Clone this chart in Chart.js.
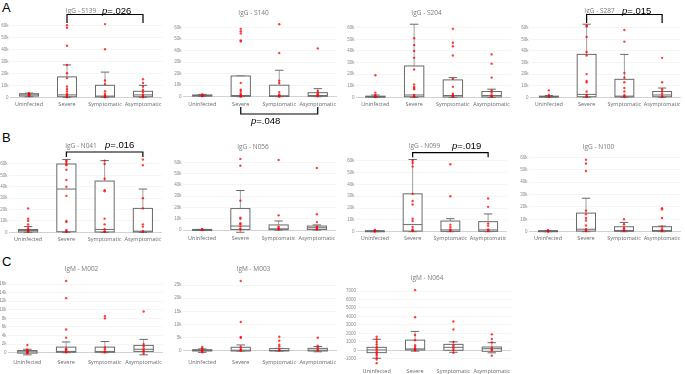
<!DOCTYPE html>
<html>
<head>
<meta charset="utf-8">
<script src="https://cdn.jsdelivr.net/npm/chart.js@4"></script>
<style>
  body { margin: 0; background: #fff; width: 685px; height: 374px; position: relative; overflow: hidden; }
  .panel { position: absolute; }
  .letter { position: absolute; font: 13px "Liberation Sans", Arial, sans-serif; line-height: 13px; color: #000; }
</style>
</head>
<body>
<div class="letter" style="left:2px;top:1px">A</div>
<div class="letter" style="left:2px;top:131px">B</div>
<div class="letter" style="left:2px;top:255px">C</div>

<script>
// Grupos (eje x)
const groups = ["Uninfected", "Severe", "Symptomatic", "Asymptomatic"];

// Cajas: [bigote inferior, Q1, mediana, Q3, bigote superior] por grupo
const s139Box = [[500, 1000, 2000, 3000, 3500], [0, 500, 2000, 17000, 27000], [0, 300, 1000, 10000, 21000], [0, 500, 2000, 5000, 10000]];
const s139Pts = [
  [3500, 3000, 2500, 2200, 2000, 1800, 1500, 1200, 1000],
  [60000, 58000, 43000, 27000, 20000, 16000, 9000, 7000, 5000, 3000, 2000, 1000, 500, 300],
  [61000, 40000, 14000, 11000, 5000, 3000, 1500, 1000, 500, 300, 200],
  [15000, 12000, 9000, 6000, 4000, 2000, 1000, 500, 300]
];

const s140Box = [[300, 500, 1000, 1500, 2000], [0, 300, 1000, 18000, 18000], [0, 200, 800, 10000, 23000], [0, 300, 1000, 3500, 7000]];
const s140Pts = [
  [2000, 1500, 1200, 1000, 800, 500],
  [59000, 57000, 55000, 49000, 48000, 12000, 6000, 5000, 3000, 1500, 1000, 500, 200],
  [63000, 38000, 14000, 12000, 4000, 2000, 1000, 500, 200],
  [42000, 5000, 3000, 2000, 1000, 500]
];

const s204Box = [[0, 200, 500, 1000, 2000], [0, 500, 2000, 27000, 63000], [0, 300, 1500, 15000, 17000], [0, 300, 1500, 5000, 7000]];
const s204Pts = [
  [19000, 4000, 2000, 1000, 500, 200],
  [51000, 45000, 40000, 34000, 24000, 11000, 9000, 8000, 7000, 2000, 1000, 500],
  [59000, 47000, 44000, 36000, 16000, 9000, 3000, 2000, 1000, 500],
  [37000, 29000, 17000, 6000, 4000, 2000, 1000, 500]
];

const s287Box = [[0, 200, 500, 1000, 1500], [0, 500, 2500, 37000, 63000], [0, 300, 1000, 15500, 37000], [0, 500, 2000, 5000, 8000]];
const s287Pts = [
  [6000, 2000, 1000, 500],
  [62000, 61000, 52000, 39000, 36000, 20000, 14000, 13000, 5000, 2000, 1000, 500],
  [58000, 48000, 21000, 17000, 13000, 8000, 5000, 2000, 1000, 500],
  [34000, 13000, 7000, 5000, 3000, 1000, 500]
];

const n041Box = [[0, 300, 1500, 2500, 5000], [0, 500, 38000, 60000, 64000], [0, 300, 2500, 45000, 63000], [0, 300, 1000, 21000, 38000]];
const n041Pts = [
  [21000, 12000, 10000, 7000, 5000, 3000, 2000, 1000, 500],
  [63000, 62000, 60000, 59000, 55000, 46000, 40000, 32000, 10000, 9000, 2000, 1000, 500],
  [63000, 60000, 47000, 37000, 36000, 12000, 7000, 3000, 1000, 500],
  [64000, 59000, 30000, 21000, 7000, 5000, 1000, 500]
];

const n056Box = [[0, 0, 200, 500, 500], [-2000, 500, 3500, 19000, 35000], [0, 300, 1000, 4500, 8000], [0, 500, 2000, 3500, 4500]];
const n056Pts = [
  [600, 400, 200, 0],
  [63000, 57000, 26000, 11000, 10000, 6000, 5000, 3000, 1000, 500],
  [62000, 13000, 3000, 2000, 1000, 500],
  [55000, 14000, 7000, 3000, 2000, 1000, 500]
];

const n099Box = [[0, 200, 500, 800, 1000], [0, 500, 6000, 32000, 61000], [0, 300, 1500, 9000, 11000], [0, 300, 1500, 8500, 15000]];
const n099Pts = [
  [1500, 1000, 500, 200],
  [60000, 58000, 55000, 32000, 26000, 23000, 11000, 9000, 4000, 2000, 1000, 500],
  [57000, 30000, 6000, 4000, 2000, 1000, 500],
  [28000, 21000, 7000, 5000, 2000, 1000, 500]
];

const n100Box = [[0, 200, 500, 800, 1000], [0, 500, 2000, 15000, 27000], [0, 300, 1000, 4000, 7500], [0, 300, 1000, 4000, 4500]];
const n100Pts = [
  [1200, 800, 500, 200],
  [58000, 55000, 49000, 17000, 14000, 11000, 9000, 5000, 2000, 1000, 500],
  [10000, 6000, 3000, 2000, 1000, 500],
  [19000, 18000, 11000, 4000, 2000, 1000, 500]
];

const m002Box = [[-500, -100, 200, 500, 800], [0, 100, 300, 1300, 2500], [0, 100, 300, 1300, 2600], [-500, 300, 800, 1700, 3100]];
const m002Pts = [
  [1800, 700, 500, 300, 200, 0, -100],
  [16700, 12700, 5400, 3500, 1000, 800, 500, 200, 100],
  [8500, 8000, 1200, 800, 300, 100],
  [9600, 2000, 1500, 1000, 600, 300, -200]
];

const m003Box = [[-500, 0, 200, 500, 800], [0, 0, 300, 1400, 2300], [0, 0, 200, 900, 1000], [-300, 0, 300, 1000, 1700]];
const m003Pts = [
  [1500, 1000, 500, 0, -500],
  [26500, 11000, 5300, 5000, 1500, 800, 400, 100],
  [5400, 3900, 2400, 1700, 600, 200],
  [5000, 2000, 1300, 600, 200]
];

const n064Box = [[-940, -275, 40, 350, 1300], [-100, 40, 160, 1200, 2230], [-235, 0, 350, 700, 1000], [-300, -120, 190, 390, 900]];
const n064Pts = [
  [1600, 1300, 1000, 700, 400, 200, 0, -200, -400, -600, -900, -1100, -1530],
  [7100, 3900, 1800, 1200, 600, 400, 200, 100, 0],
  [3400, 2470, 1000, 600, 400, 200, 0, -300],
  [1880, 1330, 940, 300, 100, 0, -630]
];

// Comparaciones con p-valor
const pTexts = { s139: ".026", s140: ".048", s287: ".015", n041: ".016", n099: ".019" };

// Disposición de cada panel (posiciones en px de la página)
const panels = [
  { title: "IgG - S139", box: s139Box, pts: s139Pts, left: 0, width: 170, top: 0, height: 112, xL: 10, xR: 162,
    tickVal: 60000, tickPx: 25.3, zeroPx: 97.3, yMax: 65000, yMin: -3000, step: 10000, k: true, titleY: 10.8, labelY: 104,
    bracket: { p: pTexts.s139, line: 14.5, leg: 23, tx: 102, ty: 11 } },
  { title: "IgG - S140", box: s140Box, pts: s140Pts, left: 170, width: 172, top: 0, height: 130, xL: 183, xR: 337,
    tickVal: 60000, tickPx: 27.7, zeroPx: 96.7, yMax: 65000, yMin: -3000, step: 10000, k: true, titleY: 13, labelY: 104,
    bracket: { p: pTexts.s140, line: 114, leg: 107, tx: 251, ty: 121.5 } },
  { title: "IgG - S204", box: s204Box, pts: s204Pts, left: 342, width: 173, top: 0, height: 112, xL: 356, xR: 511,
    tickVal: 60000, tickPx: 27.7, zeroPx: 97.3, yMax: 65000, yMin: -3000, step: 10000, k: true, titleY: 13, labelY: 104 },
  { title: "IgG - S287", box: s287Box, pts: s287Pts, left: 515, width: 170, top: 0, height: 112, xL: 530, xR: 684,
    tickVal: 60000, tickPx: 27.7, zeroPx: 97.3, yMax: 65000, yMin: -3000, step: 10000, k: true, titleY: 10.8, labelY: 104,
    bracket: { p: pTexts.s287, line: 14.5, leg: 23, tx: 622, ty: 11 } },

  { title: "IgG - N041", box: n041Box, pts: n041Pts, left: 0, width: 170, top: 128, height: 117, xL: 9, xR: 162,
    tickVal: 60000, tickPx: 164, zeroPx: 232.3, yMax: 65000, yMin: -3000, step: 10000, k: true, titleY: 146.5, labelY: 238,
    bracket: { p: pTexts.n041, line: 152, leg: 157, tx: 105, ty: 145 } },
  { title: "IgG - N056", box: n056Box, pts: n056Pts, left: 170, width: 172, top: 128, height: 117, xL: 183, xR: 336,
    tickVal: 60000, tickPx: 162.3, zeroPx: 230, yMax: 65000, yMin: -3000, step: 10000, k: true, titleY: 147, labelY: 238 },
  { title: "IgG - N099", box: n099Box, pts: n099Pts, left: 342, width: 173, top: 128, height: 117, xL: 356, xR: 507,
    tickVal: 60000, tickPx: 160.7, zeroPx: 231.7, yMax: 64500, yMin: -3000, step: 10000, k: true, titleY: 146.5, labelY: 238,
    bracket: { p: pTexts.n099, line: 152.7, leg: 157.3, tx: 452, ty: 146 } },
  { title: "IgG - N100", box: n100Box, pts: n100Pts, left: 515, width: 170, top: 128, height: 117, xL: 529, xR: 682,
    tickVal: 60000, tickPx: 157.3, zeroPx: 231.7, yMax: 64000, yMin: -3000, step: 10000, k: true, titleY: 147, labelY: 238 },

  { title: "IgM - M002", box: m002Box, pts: m002Pts, left: 0, width: 170, top: 245, height: 129, xL: 8, xR: 163,
    tickVal: 16000, tickPx: 284, zeroPx: 352.7, yMax: 17500, yMin: -1000, step: 2000, k: true, titleY: 269, labelY: 362 },
  { title: "IgM - M003", box: m003Box, pts: m003Pts, left: 170, width: 172, top: 245, height: 129, xL: 183, xR: 337,
    tickVal: 25000, tickPx: 285, zeroPx: 351, yMax: 27500, yMin: -1500, step: 5000, k: true, titleY: 269, labelY: 362 },
  { title: "IgM - N064", box: n064Box, pts: n064Pts, left: 342, width: 173, top: 245, height: 129, xL: 357.5, xR: 512,
    tickVal: 7000, tickPx: 291, zeroPx: 350.3, yMax: 7500, yMin: -1700, step: 1000, k: false, titleY: 278, labelY: 371 }
];

const FONT = '"Open Sans", "Liberation Sans", Arial, sans-serif';
const TICK_FONT = '"Liberation Sans", Arial, sans-serif';

// Cajas y bigotes dibujados con las escalas del gráfico
function boxPlugin(stats) {
  return {
    id: "boxes",
    beforeDatasetsDraw(chart) {
      const { ctx, scales: { x, y } } = chart;
      const half = x.getPixelForValue(0.25) - x.getPixelForValue(0);
      const cap = x.getPixelForValue(0.11) - x.getPixelForValue(0);
      ctx.save();
      stats.forEach((s, i) => {
        const cx = x.getPixelForValue(i);
        const [lo, q1, med, q3, hi] = s.map(v => y.getPixelForValue(v));
        ctx.lineWidth = 1;
        ctx.strokeStyle = "#a0a0a0";
        ctx.beginPath();
        ctx.moveTo(cx, q3); ctx.lineTo(cx, hi);
        ctx.moveTo(cx, q1); ctx.lineTo(cx, lo);
        ctx.stroke();
        ctx.strokeStyle = "#6a6a6a";
        ctx.beginPath();
        ctx.moveTo(cx - cap, hi); ctx.lineTo(cx + cap, hi);
        ctx.moveTo(cx - cap, lo); ctx.lineTo(cx + cap, lo);
        ctx.stroke();
        ctx.fillStyle = "rgba(255,255,255,0.85)";
        ctx.fillRect(cx - half, q3, 2 * half, q1 - q3);
        ctx.strokeRect(cx - half, q3, 2 * half, Math.max(q1 - q3, 1));
        ctx.beginPath();
        ctx.moveTo(cx - half, med); ctx.lineTo(cx + half, med);
        ctx.stroke();
      });
      ctx.restore();
    }
  };
}

// Corchete con p-valor entre Severe y Asymptomatic
function bracketPlugin(p) {
  return {
    id: "bracket",
    afterDraw(chart) {
      const b = p.bracket;
      if (!b) return;
      const { ctx, scales: { x } } = chart;
      const x1 = x.getPixelForValue(1), x2 = x.getPixelForValue(3);
      const yl = b.line - p.top, yg = b.leg - p.top;
      ctx.save();
      ctx.strokeStyle = "#000";
      ctx.lineWidth = 1.2;
      ctx.beginPath();
      ctx.moveTo(x1, yg); ctx.lineTo(x1, yl); ctx.lineTo(x2, yl); ctx.lineTo(x2, yg);
      ctx.stroke();
      ctx.fillStyle = "#000";
      ctx.textBaseline = "middle";
      const tx = b.tx - p.left, ty = b.ty - p.top;
      ctx.font = 'italic 9.5px "Liberation Sans", Arial, sans-serif';
      ctx.fillText("p", tx, ty);
      const w = ctx.measureText("p").width;
      ctx.font = '9.5px "Liberation Sans", Arial, sans-serif';
      ctx.fillText("=" + b.p, tx + w, ty);
      ctx.restore();
    }
  };
}

panels.forEach(p => {
  const div = document.createElement("div");
  div.className = "panel";
  div.style.left = p.left + "px";
  div.style.top = p.top + "px";
  div.style.width = p.width + "px";
  div.style.height = p.height + "px";
  const canvas = document.createElement("canvas");
  div.appendChild(canvas);
  document.body.appendChild(div);

  const ppv = (p.zeroPx - p.tickPx) / p.tickVal;
  const chartTop = p.zeroPx - p.yMax * ppv;
  const chartBottom = p.zeroPx - p.yMin * ppv;
  const titleSize = 6.5, lh = titleSize * 1.2;
  const padTop = p.titleY - lh / 2 - p.top;
  const padBot = Math.max(0, chartTop - (p.titleY + lh / 2));
  const xh = p.top + p.height - chartBottom;

  const yTicks = [];
  for (let v = Math.ceil(p.yMin / p.step) * p.step; v <= p.yMax; v += p.step) yTicks.push(v);

  const points = p.pts.flatMap((arr, i) => arr.map(v => ({ x: i, y: v })));

  new Chart(canvas, {
    type: "scatter",
    data: {
      datasets: [{
        data: points,
        pointRadius: 1.2,
        pointBackgroundColor: "rgba(255,0,0,0.75)",
        pointBorderWidth: 0
      }]
    },
    plugins: [boxPlugin(p.box), bracketPlugin(p)],
    options: {
      responsive: true,
      maintainAspectRatio: false,
      animation: false,
      layout: { padding: { left: 0, top: 0, bottom: 0, right: p.left + p.width - p.xR } },
      plugins: {
        legend: { display: false },
        tooltip: { enabled: false },
        title: {
          display: true,
          text: p.title,
          color: "#7a7a7a",
          font: { family: FONT, size: titleSize, weight: "normal" },
          padding: { top: padTop, bottom: padBot }
        }
      },
      scales: {
        x: {
          type: "linear",
          min: -0.5,
          max: 3.5,
          afterBuildTicks: s => { s.ticks = groups.map((g, i) => ({ value: i })); },
          afterFit: s => { s.height = xh; },
          grid: { display: false, drawTicks: false },
          border: { display: false },
          ticks: {
            callback: v => groups[v],
            color: "#6a6a6a",
            font: { family: FONT, size: 5.5 },
            padding: Math.max(0, p.labelY - 3 - chartBottom),
            maxRotation: 0,
            autoSkip: false
          }
        },
        y: {
          min: p.yMin,
          max: p.yMax,
          afterBuildTicks: s => { s.ticks = yTicks.map(v => ({ value: v })); },
          afterFit: s => { s.width = p.xL - p.left; },
          grid: {
            drawTicks: false,
            color: c => (c.tick && c.tick.value === 0 ? "#d2d2d2" : "#f0f0f0"),
            lineWidth: c => (c.tick && c.tick.value === 0 ? 1 : 0.7)
          },
          border: { display: false },
          ticks: {
            callback: v => (p.k && v !== 0 ? v / 1000 + "k" : String(v)),
            color: "#8a8a8a",
            font: { family: TICK_FONT, size: 4.5 },
            padding: 1.5
          }
        }
      }
    }
  });
});
</script>
</body>
</html>
